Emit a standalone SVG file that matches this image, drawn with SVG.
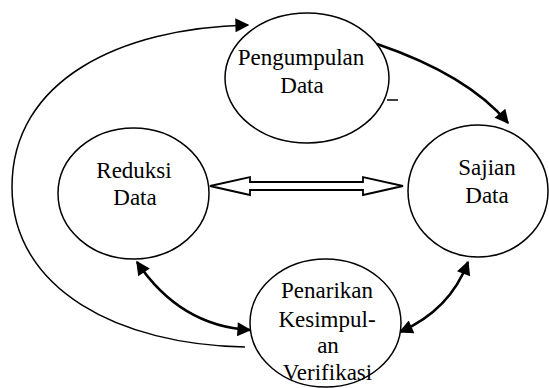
<svg xmlns="http://www.w3.org/2000/svg" width="549" height="388" viewBox="0 0 549 388">
<defs>
<style>
.node{fill:#fff;stroke:#000;stroke-width:1.5}
.lbl{font-family:'Liberation Serif','Times New Roman',Times,'DejaVu Serif',serif;font-size:23px;fill:#000;text-anchor:middle}
.thin{fill:none;stroke:#000;stroke-width:1.5}
.thick{fill:none;stroke:#000;stroke-width:2.5}
</style>
<marker id="ah" viewBox="0 0 10 10" refX="9" refY="5" markerWidth="16" markerHeight="14" markerUnits="userSpaceOnUse" orient="auto-start-reverse">
<path d="M0,0 L10,5 L0,10 Z" fill="#000"/>
</marker>
</defs>
<rect width="549" height="388" fill="#fff"/>
<g id="connectors">
<path class="thin" d="M245,347 C120,345 12,290 12,187 C12,80 120,28 248,25" marker-end="url(#ah)"/>
<path class="thick" d="M377,44 Q468,75 508,123" marker-end="url(#ah)"/>
<line class="thin" x1="387" y1="100" x2="398" y2="100"/>
<path d="M210,186 L250,177 L250,182 L363,182 L363,177 L403,186 L363,195 L363,190 L250,190 L250,195 Z" fill="#fff" stroke="#000" stroke-width="1.8" stroke-linejoin="miter"/>
<path class="thick" d="M137,262 Q180,326 250,330" marker-start="url(#ah)" marker-end="url(#ah)"/>
<path class="thick" d="M400,332 Q450,310 468,262" marker-start="url(#ah)" marker-end="url(#ah)"/>
</g>
<g id="pengumpulan">
<ellipse class="node" cx="307" cy="78" rx="82" ry="65"/>
<text class="lbl" font-family="Liberation Serif, serif" x="301" y="65">Pengumpulan</text>
<text class="lbl" font-family="Liberation Serif, serif" x="302" y="93">Data</text>
</g>
<g id="reduksi">
<ellipse class="node" cx="133.5" cy="193.5" rx="75.5" ry="65.5"/>
<text class="lbl" font-family="Liberation Serif, serif" x="134" y="178">Reduksi</text>
<text class="lbl" font-family="Liberation Serif, serif" x="135" y="205">Data</text>
</g>
<g id="sajian">
<ellipse class="node" cx="478" cy="191" rx="70" ry="66"/>
<text class="lbl" font-family="Liberation Serif, serif" x="487" y="175">Sajian</text>
<text class="lbl" font-family="Liberation Serif, serif" x="487" y="203">Data</text>
</g>
<g id="penarikan">
<ellipse class="node" cx="325.5" cy="323" rx="75.5" ry="64"/>
<text class="lbl" font-family="Liberation Serif, serif" x="327" y="298">Penarikan</text>
<text class="lbl" font-family="Liberation Serif, serif" x="327" y="327">Kesimpul-</text>
<text class="lbl" font-family="Liberation Serif, serif" x="328" y="353">an</text>
<text class="lbl" font-family="Liberation Serif, serif" x="327.5" y="380">Verifikasi</text>
</g>
</svg>
